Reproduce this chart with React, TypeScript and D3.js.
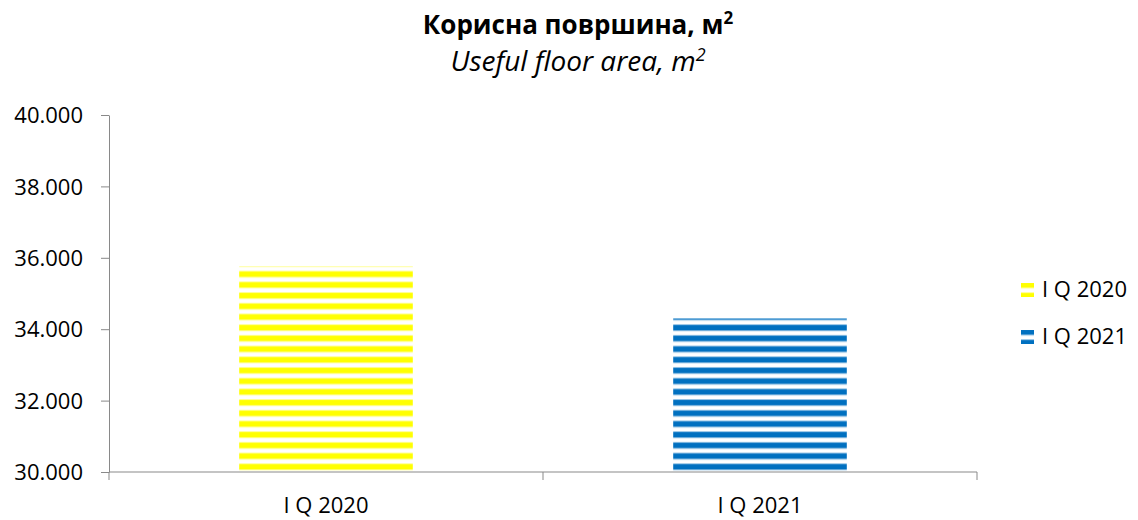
import React, { useEffect, useRef } from "react";
import * as d3 from "d3";

const categories = ["I Q 2020", "I Q 2021"];
const values = [35760, 34300];
const colors = ["#FFFF00", "#0070C0"];
const yTicks = [30000, 32000, 34000, 36000, 38000, 40000];

const width = 1138;
const height = 520;

const App = () => {
  const ref = useRef<SVGSVGElement>(null);

  useEffect(() => {
    const svg = d3.select(ref.current);
    svg.selectAll("*").remove();

    const font = "'Open Sans', sans-serif";
    const left = 109;
    const right = 977;
    const top = 115;
    const bottom = 472;

    // striped fill like excel's "wide horizontal" pattern
    const defs = svg.append("defs");
    colors.forEach((c, i) => {
      const p = defs
        .append("pattern")
        .attr("id", "stripe" + i)
        .attr("patternUnits", "userSpaceOnUse")
        .attr("width", 10)
        .attr("height", 10.7)
        .attr("y", bottom);
      p.append("rect").attr("width", 10).attr("height", 10.7).attr("fill", "#fff");
      p.append("rect")
        .attr("y", 2)
        .attr("width", 10)
        .attr("height", 7)
        .attr("fill", c)
        .attr("opacity", 0.45);
      p.append("rect").attr("y", 3).attr("width", 10).attr("height", 5).attr("fill", c);
    });

    const x = d3
      .scaleBand()
      .domain(categories)
      .range([left, right])
      .paddingInner(0.6)
      .paddingOuter(0.3);
    const y = d3.scaleLinear().domain([30000, 40000]).range([bottom, top]);

    const g = svg.append("g");

    g.selectAll("rect.bar")
      .data(values)
      .enter()
      .append("rect")
      .attr("class", "bar")
      .attr("x", (d, i) => x(categories[i])!)
      .attr("width", x.bandwidth())
      .attr("y", (d) => y(d))
      .attr("height", (d) => y(30000) - y(d))
      .attr("fill", (d, i) => `url(#stripe${i})`);

    // y axis
    const yAxis = g
      .append("g")
      .attr("transform", `translate(${left},0)`)
      .call(
        d3
          .axisLeft(y)
          .tickValues(yTicks)
          .tickSize(8)
          .tickSizeOuter(0)
          .tickFormat((d) => d3.format(",")(d as number).replace(/,/g, "."))
      );
    yAxis.select(".domain").attr("stroke", "#898989");
    yAxis.selectAll(".tick line").attr("stroke", "#898989");
    yAxis
      .selectAll(".tick text")
      .attr("x", -26)
      .attr("dy", "0.35em")
      .style("font-family", font)
      .style("font-size", "22px")
      .attr("fill", "#000");

    // x axis, ticks on the category edges
    const xg = g.append("g").attr("transform", `translate(0,${bottom})`);
    xg.append("line")
      .attr("x1", left)
      .attr("x2", right)
      .attr("stroke", "#898989");
    const edges = [left, (left + right) / 2, right];
    xg.selectAll("line.tk")
      .data(edges)
      .enter()
      .append("line")
      .attr("class", "tk")
      .attr("x1", (d) => d)
      .attr("x2", (d) => d)
      .attr("y1", 0)
      .attr("y2", 8)
      .attr("stroke", "#898989");
    xg.selectAll("text")
      .data(categories)
      .enter()
      .append("text")
      .attr("x", (d) => x(d)! + x.bandwidth() / 2)
      .attr("y", 41)
      .attr("text-anchor", "middle")
      .style("font-family", font)
      .style("font-size", "22px")
      .text((d) => d);

    // title
    const t1 = svg
      .append("text")
      .attr("x", 578)
      .attr("y", 34)
      .attr("text-anchor", "middle")
      .style("font-family", font)
      .style("font-size", "26px")
      .style("font-weight", "bold");
    t1.append("tspan").text("Корисна површина, м");
    t1.append("tspan").attr("dy", -10).style("font-size", "17px").text("2");

    const t2 = svg
      .append("text")
      .attr("x", 578)
      .attr("y", 71)
      .attr("text-anchor", "middle")
      .style("font-family", font)
      .style("font-size", "28px")
      .style("font-style", "italic");
    t2.append("tspan").text("Useful floor area, m");
    t2.append("tspan").attr("dy", -10).style("font-size", "18px").text("2");

    // legend
    const lg = svg
      .selectAll("g.legend")
      .data(categories)
      .enter()
      .append("g")
      .attr("class", "legend")
      .attr("transform", (d, i) => `translate(1021,${289 + i * 47})`);
    lg.append("rect")
      .attr("x", 0)
      .attr("y", -6)
      .attr("width", 13)
      .attr("height", 14)
      .attr("fill", (d, i) => `url(#stripe${i})`);
    lg.append("text")
      .attr("x", 21)
      .attr("y", 8)
      .style("font-family", font)
      .style("font-size", "22px")
      .text((d) => d);
  }, []);

  return (
    <svg
      ref={ref}
      width={width}
      height={height}
      style={{ position: "absolute", left: 0, top: 0 }}
    ></svg>
  );
};

export default App;
